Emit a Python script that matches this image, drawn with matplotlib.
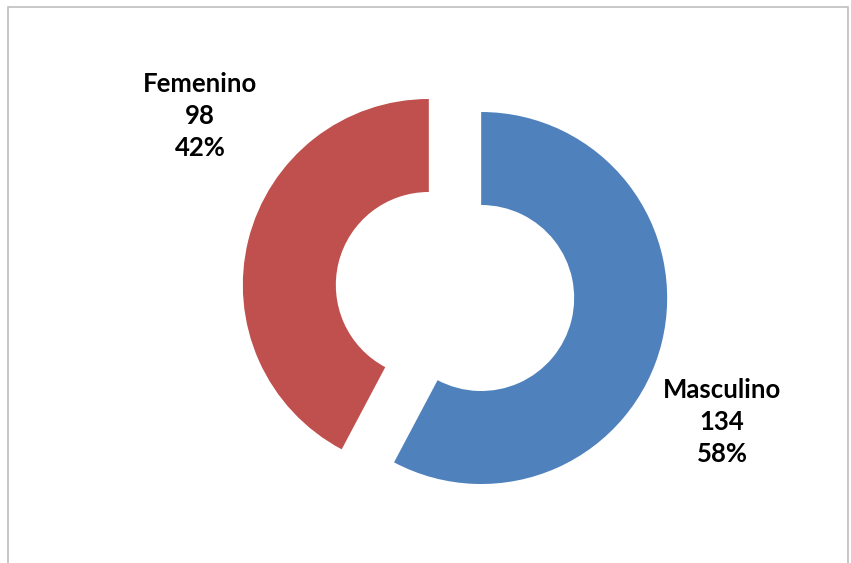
import matplotlib.pyplot as plt
from matplotlib.patches import Rectangle

# datos
categorias = ['Masculino', 'Femenino']
valores = [134, 98]
colores = ['#4F81BD', '#C0504D']

total = sum(valores)
porcentajes = [round(v * 100 / total) for v in valores]

fig = plt.figure(figsize=(8.51, 5.63), dpi=100)
ax = fig.add_axes([0, 0, 1, 1])

# donut con las dos porciones separadas (explode va en unidades de datos)
R = 186
ax.pie(valores, colors=colores, startangle=90, counterclock=False,
       radius=R, center=(455, 271.5), explode=[0.145 * R, 0.145 * R],
       wedgeprops=dict(width=93, edgecolor='none'))
ax.set_xlim(0, 851)
ax.set_ylim(0, 563)
ax.set_aspect('equal')
ax.axis('off')

# etiquetas (nombre, valor, porcentaje)
pos_etiquetas = [(722, 141), (200, 447)]
for nom, v, p, (x, y) in zip(categorias, valores, porcentajes, pos_etiquetas):
    ax.text(x, y, f'{nom}\n{v}\n{p}%', ha='center', va='center',
            fontsize=18.5, fontweight='bold', family='Lato', linespacing=1.4)

# marco del grafico
fig.patches.append(Rectangle((8 / 851, -0.05), 840 / 851, 1.05 - 7 / 563,
                             transform=fig.transFigure, fill=False,
                             edgecolor='#BFBFBF', lw=1.2))

fig.savefig('out.png', dpi=100)
